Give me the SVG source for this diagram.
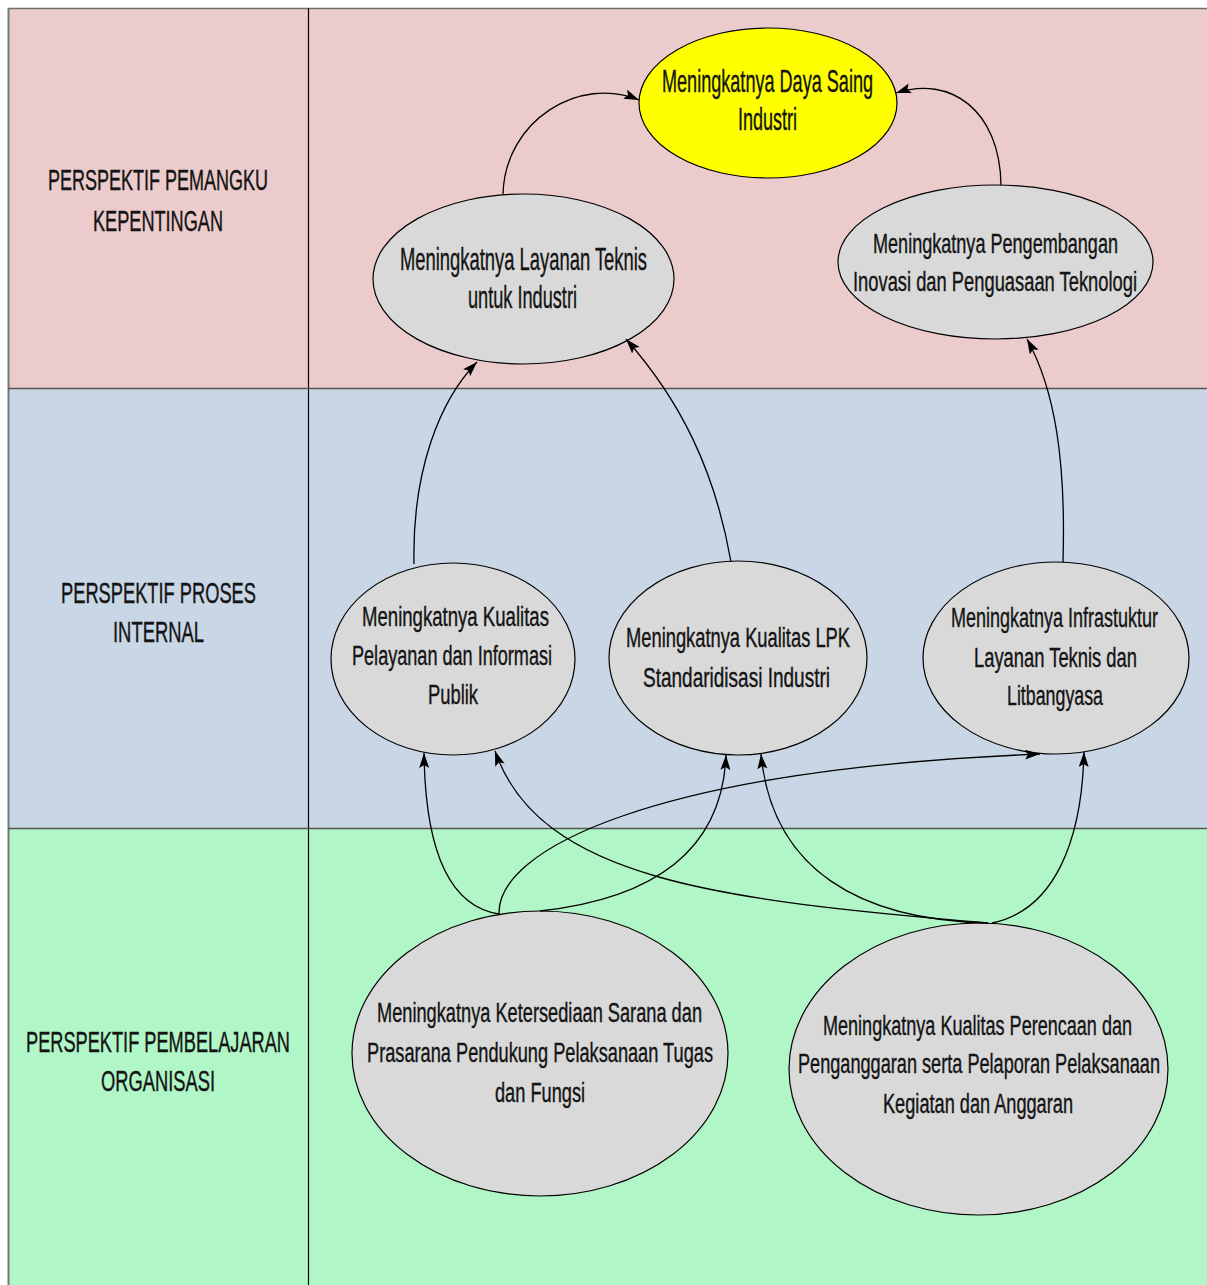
<svg xmlns="http://www.w3.org/2000/svg" width="1207" height="1285" viewBox="0 0 1207 1285">
<style>
text{font-family:"Liberation Sans",Arial,sans-serif;fill:#141414;stroke:#141414;stroke-width:0.4}
.lbl{font-size:30px}
.t{font-size:28px}
.tb{font-size:32px}
.node{fill:#d9d9d9;stroke:#000;stroke-width:1.2}
.goal{fill:#ffff00;stroke:#000;stroke-width:1.2}
.conn{fill:none;stroke:#000;stroke-width:1.3;marker-end:url(#arr)}
</style>
<defs>
<marker id="arr" markerUnits="userSpaceOnUse" markerWidth="16" markerHeight="12" refX="15" refY="5" orient="auto">
<path d="M0,0 L15,5 L0,10 L3,5 z" fill="#000"/>
</marker>
</defs>
<g id="lanes">
<rect x="8" y="8" width="1199" height="380" fill="#ebcbcb"/>
<rect x="8" y="388" width="1199" height="440" fill="#c8d6e5"/>
<rect x="8" y="828" width="1199" height="457" fill="#b0f6c6"/>
<line x1="8" y1="8.5" x2="1207" y2="8.5" stroke="#6e6e6e" stroke-width="1.5"/>
<line x1="8.5" y1="8" x2="8.5" y2="1285" stroke="#6e7a72" stroke-width="2"/>
<line x1="308.5" y1="8" x2="308.5" y2="1285" stroke="#000" stroke-width="1.2"/>
<line x1="8" y1="388.5" x2="1207" y2="388.5" stroke="#555" stroke-width="1.5"/>
<line x1="8" y1="828.5" x2="1207" y2="828.5" stroke="#555" stroke-width="1.5"/>
<text class="lbl" transform="translate(48,190) scale(0.6,1)" textLength="366.7" lengthAdjust="spacingAndGlyphs">PERSPEKTIF PEMANGKU</text>
<text class="lbl" transform="translate(93,231) scale(0.6,1)" textLength="216.7" lengthAdjust="spacingAndGlyphs">KEPENTINGAN</text>
<text class="lbl" transform="translate(61,603) scale(0.6,1)" textLength="325" lengthAdjust="spacingAndGlyphs">PERSPEKTIF PROSES</text>
<text class="lbl" transform="translate(113,642) scale(0.6,1)" textLength="151.7" lengthAdjust="spacingAndGlyphs">INTERNAL</text>
<text class="lbl" transform="translate(26,1052) scale(0.6,1)" textLength="440" lengthAdjust="spacingAndGlyphs">PERSPEKTIF PEMBELAJARAN</text>
<text class="lbl" transform="translate(101,1091) scale(0.6,1)" textLength="190" lengthAdjust="spacingAndGlyphs">ORGANISASI</text>
</g>
<g id="n-dayasaing">
<ellipse class="goal" cx="768" cy="103" rx="129" ry="75"/>
<text class="tb" transform="translate(662,92) scale(0.58,1)" textLength="363.8" lengthAdjust="spacingAndGlyphs">Meningkatnya Daya Saing</text>
<text class="tb" transform="translate(738,130) scale(0.58,1)" textLength="101.7" lengthAdjust="spacingAndGlyphs">Industri</text>
</g>
<g id="n-layanan">
<ellipse class="node" cx="523.5" cy="279" rx="150.5" ry="85"/>
<text class="tb" transform="translate(400,270) scale(0.58,1)" textLength="425.9" lengthAdjust="spacingAndGlyphs">Meningkatnya Layanan Teknis</text>
<text class="tb" transform="translate(468,308) scale(0.58,1)" textLength="187.9" lengthAdjust="spacingAndGlyphs">untuk Industri</text>
</g>
<g id="n-pengembangan">
<ellipse class="node" cx="995.5" cy="262" rx="157.5" ry="77"/>
<text class="t" transform="translate(873,253) scale(0.63,1)" textLength="388.9" lengthAdjust="spacingAndGlyphs">Meningkatnya Pengembangan</text>
<text class="t" transform="translate(853,291) scale(0.63,1)" textLength="450.8" lengthAdjust="spacingAndGlyphs">Inovasi dan Penguasaan Teknologi</text>
</g>
<g id="n-pelayanan">
<ellipse class="node" cx="453" cy="659" rx="122" ry="96"/>
<text class="t" transform="translate(362,626) scale(0.63,1)" textLength="296.8" lengthAdjust="spacingAndGlyphs">Meningkatnya Kualitas</text>
<text class="t" transform="translate(352,665) scale(0.63,1)" textLength="317.5" lengthAdjust="spacingAndGlyphs">Pelayanan dan Informasi</text>
<text class="t" transform="translate(428,704) scale(0.63,1)" textLength="79.4" lengthAdjust="spacingAndGlyphs">Publik</text>
</g>
<g id="n-lpk">
<ellipse class="node" cx="738" cy="658" rx="129" ry="97"/>
<text class="t" transform="translate(626,647) scale(0.63,1)" textLength="355.6" lengthAdjust="spacingAndGlyphs">Meningkatnya Kualitas LPK</text>
<text class="t" transform="translate(643,687) scale(0.63,1)" textLength="296.8" lengthAdjust="spacingAndGlyphs">Standaridisasi Industri</text>
</g>
<g id="n-infrastuktur">
<ellipse class="node" cx="1056" cy="658" rx="133" ry="96"/>
<text class="t" transform="translate(951,627) scale(0.63,1)" textLength="328.6" lengthAdjust="spacingAndGlyphs">Meningkatnya Infrastuktur</text>
<text class="t" transform="translate(974,667) scale(0.63,1)" textLength="258.7" lengthAdjust="spacingAndGlyphs">Layanan Teknis dan</text>
<text class="t" transform="translate(1007,705) scale(0.63,1)" textLength="152.4" lengthAdjust="spacingAndGlyphs">Litbangyasa</text>
</g>
<g id="n-sarana">
<ellipse class="node" cx="540" cy="1053.5" rx="188" ry="142.5"/>
<text class="t" transform="translate(377,1022) scale(0.63,1)" textLength="515.9" lengthAdjust="spacingAndGlyphs">Meningkatnya Ketersediaan Sarana dan</text>
<text class="t" transform="translate(367,1062) scale(0.63,1)" textLength="549.2" lengthAdjust="spacingAndGlyphs">Prasarana Pendukung Pelaksanaan Tugas</text>
<text class="t" transform="translate(495,1102) scale(0.63,1)" textLength="142.9" lengthAdjust="spacingAndGlyphs">dan Fungsi</text>
</g>
<g id="n-perencanaan">
<ellipse class="node" cx="978.5" cy="1069" rx="189.5" ry="146"/>
<text class="t" transform="translate(823,1035) scale(0.63,1)" textLength="490.5" lengthAdjust="spacingAndGlyphs">Meningkatnya Kualitas Perencaan dan</text>
<text class="t" transform="translate(798,1073) scale(0.63,1)" textLength="574.6" lengthAdjust="spacingAndGlyphs">Penganggaran serta Pelaporan Pelaksanaan</text>
<text class="t" transform="translate(883,1113) scale(0.63,1)" textLength="301.6" lengthAdjust="spacingAndGlyphs">Kegiatan dan Anggaran</text>
</g>
<g id="connectors">
<path class="conn" d="M503,194 C505,120 580,75 639,100"/>
<path class="conn" d="M1001,185 C1000,110 950,75 896,93"/>
<path class="conn" d="M414,564 C412,470 440,400 477,362"/>
<path class="conn" d="M731,562 C715,470 680,400 626,339"/>
<path class="conn" d="M1063,562 C1066,460 1055,390 1027,339"/>
<path class="conn" d="M499,914 C440,905 425,830 424,753"/>
<path class="conn" d="M499,914 C497,850 650,770 1040,754"/>
<path class="conn" d="M540,911 C640,900 722,860 726,755"/>
<path class="conn" d="M988,923 C720,900 540,880 495,751"/>
<path class="conn" d="M988,923 C860,920 772,870 761,754"/>
<path class="conn" d="M992,923 C1055,910 1082,840 1084,752"/>
</g>
</svg>
